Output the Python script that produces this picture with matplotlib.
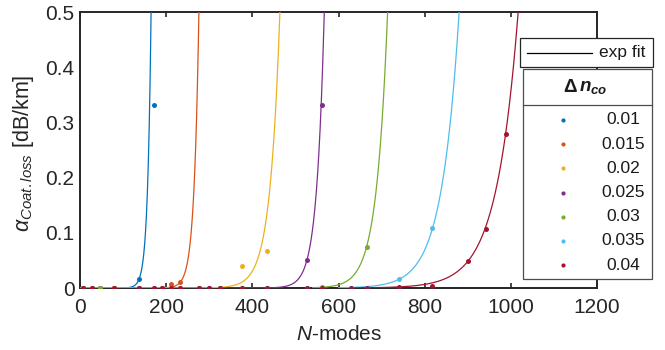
import numpy as np
import matplotlib
matplotlib.use("Agg")
import matplotlib.pyplot as plt
from matplotlib.patches import Rectangle
from matplotlib.lines import Line2D

plt.rcParams["font.family"] = ["Liberation Sans", "DejaVu Sans"]
plt.rcParams["mathtext.fontset"] = "custom"
plt.rcParams["mathtext.rm"] = "Liberation Sans"
plt.rcParams["mathtext.it"] = "Liberation Sans:italic"
plt.rcParams["mathtext.bf"] = "Liberation Sans:bold"
plt.rcParams["mathtext.bfit"] = "Liberation Sans:bold:italic"

# ── data ──────────────────────────────────────────────────────────────────
dn_labels = ["0.01", "0.015", "0.02", "0.025", "0.03", "0.035", "0.04"]
colors = ["#0072BD", "#D95319", "#EDB120", "#7E2F8E", "#77AC30", "#4DBEEE", "#A2142F"]

n_001 = [8, 29, 46, 80, 138, 172]
a_001 = [0, 0, 0, 0, 0.016, 0.331]
n_0015 = [8, 29, 46, 80, 138, 172, 191, 211, 232]
a_0015 = [0, 0, 0, 0, 0, 0, 0, 0.0067, 0.0103]
n_002 = [8, 46, 80, 138, 191, 232, 277, 300, 325, 377, 435]
a_002 = [0, 0, 0, 0, 0, 0, 0, 0, 0, 0.040, 0.067]
n_0025 = [8, 46, 80, 138, 191, 232, 277, 300, 325, 377, 435, 527, 561]
a_0025 = [0, 0, 0, 0, 0, 0, 0, 0, 0, 0, 0, 0.051, 0.331]
n_003 = [8, 46, 80, 138, 191, 232, 277, 325, 377, 435, 527, 561, 665]
a_003 = [0, 0, 0, 0, 0, 0, 0, 0, 0, 0, 0, 0.002, 0.074]
n_0035 = [138, 232, 325, 435, 527, 561, 629, 665, 740, 818]
a_0035 = [0, 0, 0, 0, 0, 0, 0, 0, 0.0157, 0.109]
n_004 = [8, 29, 80, 138, 172, 191, 211, 232, 277, 300, 325, 377, 435,
         527, 561, 629, 665, 740, 818, 901, 943, 988]
a_004 = [0, 0, 0, 0, 0, 0, 0, 0, 0, 0, 0, 0, 0,
         0, 0, 0, 0, 0.001, 0.0036, 0.049, 0.107, 0.279]

n_data = [n_001, n_0015, n_002, n_0025, n_003, n_0035, n_004]
a_data = [a_001, a_0015, a_002, a_0025, a_003, a_0035, a_004]

# exp fit  y = 0.5 * exp(b * (N - N_half)),  drawn from fit_start up to y = 0.5
fit_b = [0.123, 0.089, 0.0437, 0.0569, 0.039, 0.0248, 0.020]
fit_n_half = [165, 276, 464, 567, 714, 880, 1017]
fit_start = [0, 0, 0, 325, 540, 600, 629]

x_ticks = [0, 200, 400, 600, 800, 1000, 1200]
y_ticks = [0, 0.1, 0.2, 0.3, 0.4, 0.5]
y_tick_labels = ["0", "0.1", "0.2", "0.3", "0.4", "0.5"]

# ── figure ────────────────────────────────────────────────────────────────
W, H = 665, 350
fig = plt.figure(figsize=(W / 100, H / 100), dpi=100)
ax = fig.add_axes([80 / W, 1 - 288 / H, 517 / W, 276 / H])


def fx(x):
    return x / W


def fy(y):
    return 1 - y / H


for i in range(len(dn_labels)):
    xs = np.linspace(fit_start[i], fit_n_half[i], 400)
    ys = 0.5 * np.exp(fit_b[i] * (xs - fit_n_half[i]))
    ax.plot(xs, ys, color=colors[i], lw=0.9, zorder=3)
for i in range(len(dn_labels)):
    ax.plot(n_data[i], a_data[i], "o", color=colors[i], ms=3.6, mew=0, zorder=4)

ax.set_xlim(0, 1200)
ax.set_ylim(0, 0.5)
ax.set_xticks(x_ticks)
ax.set_yticks(y_ticks)
ax.set_yticklabels(y_tick_labels)
ax.tick_params(axis="x", direction="in", length=3.6, width=1.2, top=True,
               labelsize=15, pad=7, colors="0.15")
ax.tick_params(axis="y", length=0, labelsize=15, pad=4, colors="0.15")
for sp in ax.spines.values():
    sp.set_linewidth(1.4)
    sp.set_color("0.15")

ax.set_xlabel(r"$N$-modes", fontsize=15, color="0.15", labelpad=6)
ax.set_ylabel(r"$\alpha_{Coat.loss}$ [dB/km]", fontsize=15.5, color="0.15")
ax.yaxis.set_label_coords(-0.085, 0.49)

# ── legends (drawn by hand, MATLAB style) ─────────────────────────────────
fig.add_artist(Rectangle((fx(520), fy(67)), fx(653) - fx(520), fy(38) - fy(67),
                         transform=fig.transFigure, facecolor="white",
                         edgecolor="0.15", lw=0.9, zorder=10))
fig.add_artist(Line2D([fx(527), fx(592)], [fy(52.5), fy(52.5)],
                      transform=fig.transFigure, color="k", lw=0.9, zorder=11))
fig.text(fx(645), fy(52.5), "exp fit", ha="right", va="center",
         fontsize=12.5, color="0.1", zorder=11)

fig.add_artist(Rectangle((fx(523), fy(279)), fx(652) - fx(523), fy(69) - fy(279),
                         transform=fig.transFigure, facecolor="white",
                         edgecolor="0.3", lw=0.9, zorder=10))
fig.add_artist(Line2D([fx(523), fx(652)], [fy(105), fy(105)],
                      transform=fig.transFigure, color="0.3", lw=0.9, zorder=11))
fig.text(fx(577), fy(87), "\u0394", ha="right", va="center", fontweight="bold",
         fontsize=13.5, color="0.1", zorder=11)
fig.text(fx(579), fy(88), r"$\boldsymbol{n}_{\boldsymbol{co}}$",
         ha="left", va="center", fontsize=13.5, color="0.1", zorder=11)
row_y = [120, 144.3, 168.3, 192.7, 216.7, 240.7, 265]
for i, lab in enumerate(dn_labels):
    fig.add_artist(Line2D([fx(562.7)], [fy(row_y[i])], transform=fig.transFigure,
                          marker="o", ms=3, mew=0, color=colors[i], zorder=11))
    fig.text(fx(623), fy(row_y[i]), lab, ha="center", va="center",
             fontsize=12.5, color="0.1", zorder=11)

fig.savefig("out.png", dpi=100)
